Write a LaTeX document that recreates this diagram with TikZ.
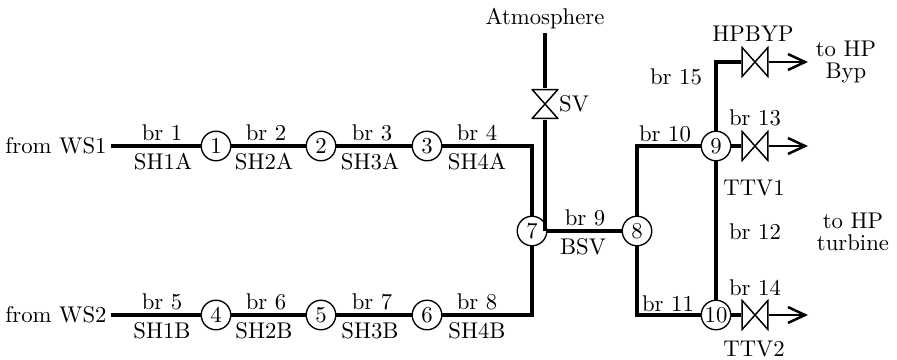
\documentclass[tikz,border=0pt]{standalone}
\usetikzlibrary{arrows.meta}
\tikzset{
  junction/.style={circle, draw=black, fill=white, line width=0.6pt, minimum size=13pt, inner sep=0pt},
  valvebase/.style={rectangle, inner sep=0pt, minimum width=12pt, minimum height=13.4pt},
  valve/.style={valvebase, path picture={
    \draw[line width=0.65pt] ([shift={(.35pt,.35pt)}]path picture bounding box.south west)
      -- ([shift={(-.35pt,-.35pt)}]path picture bounding box.north east)
      -- ([shift={(-.35pt,.35pt)}]path picture bounding box.south east)
      -- ([shift={(.35pt,-.35pt)}]path picture bounding box.north west) -- cycle;}},
  vvalve/.style={valvebase, path picture={
    \draw[line width=0.65pt] ([shift={(.35pt,.35pt)}]path picture bounding box.south west)
      -- ([shift={(-.35pt,.35pt)}]path picture bounding box.south east)
      -- ([shift={(.35pt,-.35pt)}]path picture bounding box.north west)
      -- ([shift={(-.35pt,-.35pt)}]path picture bounding box.north east) -- cycle;}},
  pipe/.style={line width=1.45pt, draw=black},
  outlet/.style={-{Straight Barb[length=7.5pt,width=7pt,line width=1.1pt]}, line width=0.75pt, draw=black},
  tag/.style={inner sep=0pt, align=center}
}
\begin{document}
\begin{tikzpicture}[x=0.44pt, y=-0.44pt]
\useasboundingbox (0,0) rectangle (897,360);

\node[junction] (j1) at (216,146) {1};
\node[junction] (j2) at (321,146) {2};
\node[junction] (j3) at (427,146) {3};
\node[junction] (j4) at (216,315) {4};
\node[junction] (j5) at (321,315) {5};
\node[junction] (j6) at (427,315) {6};
\node[junction] (j7) at (532,231) {7};
\node[junction] (j8) at (637,231) {8};
\node[junction] (j9) at (716,146) {9};
\node[junction] (j10) at (716,315) {10};

\node[valve] (hpbyp) at (755,62) {};
\node[valve] (ttv1) at (755,146) {};
\node[valve] (ttv2) at (755,315) {};
\node[vvalve] (sv) at (545,104) {};

\coordinate (ws1) at (111,146);
\coordinate (ws2) at (111,315);
\coordinate (atm) at (545,33);
\coordinate (byp) at (808,62);
\coordinate (hp1) at (808,146);
\coordinate (hp2) at (808,315);

\node[tag] (fromws1) at (56,146) {from WS1};
\node[tag] (fromws2) at (56,315) {from WS2};
\node[tag] (atmos) at (545,19) {Atmosphere};
\node[tag] (svlab) at (574,104) {SV};
\node[tag] (hpbyplab) at (753,34) {HPBYP};
\node[tag] (tobyp) at (846,62) {to HP\\[-2.2pt]Byp};
\node[tag] (toturb) at (853,232) {to HP\\[-2.2pt]turbine};
\node[tag] (ttv1lab) at (754,188) {TTV1};
\node[tag] (ttv2lab) at (754,349) {TTV2};

\node[tag] (br1) at (162,133) {br 1};
\node[tag] (br2) at (266,133) {br 2};
\node[tag] (br3) at (372,133) {br 3};
\node[tag] (br4) at (477,133) {br 4};
\node[tag] (br5) at (162,302) {br 5};
\node[tag] (br6) at (266,302) {br 6};
\node[tag] (br7) at (372,302) {br 7};
\node[tag] (br8) at (477,302) {br 8};
\node[tag] (br9) at (585,218) {br 9};
\node[tag] (br10) at (665,134) {br 10};
\node[tag] (br11) at (668,304) {br 11};
\node[tag] (br12) at (755,232) {br 12};
\node[tag] (br13) at (755,118) {br 13};
\node[tag] (br14) at (755,288) {br 14};
\node[tag] (br15) at (676,77) {br 15};

\node[tag] (sh1a) at (163,162) {SH1A};
\node[tag] (sh2a) at (264,162) {SH2A};
\node[tag] (sh3a) at (370,162) {SH3A};
\node[tag] (sh4a) at (477,162) {SH4A};
\node[tag] (sh1b) at (162,331) {SH1B};
\node[tag] (sh2b) at (264,331) {SH2B};
\node[tag] (sh3b) at (370,331) {SH3B};
\node[tag] (sh4b) at (477,331) {SH4B};
\node[tag] (bsv) at (583,247) {BSV};

\draw[pipe] (ws1) -- (j1);
\draw[pipe] (j1) -- (j2);
\draw[pipe] (j2) -- (j3);
\draw[pipe] (j3) -- (j3 -| j7) -- (j7);
\draw[pipe] (ws2) -- (j4);
\draw[pipe] (j4) -- (j5);
\draw[pipe] (j5) -- (j6);
\draw[pipe] (j6) -- (j6 -| j7) -- (j7);
\draw[pipe] (j7) -- (j8);
\draw[pipe] (atm) -- (sv.north);
\draw[pipe] (sv.south) -- (sv.south |- j7);
\draw[pipe] (j8) -- (j8 |- j9) -- (j9);
\draw[pipe] (j8) -- (j8 |- j10) -- (j10);
\draw[pipe] (j9) -- (j10);
\draw[pipe] (j9) -- (j9 |- hpbyp) -- (hpbyp.west);
\draw[pipe] (j9) -- (ttv1.west);
\draw[pipe] (j10) -- (ttv2.west);
\draw[outlet] (hpbyp.east) -- (byp);
\draw[outlet] (ttv1.east) -- (hp1);
\draw[outlet] (ttv2.east) -- (hp2);

\end{tikzpicture}
\end{document}
